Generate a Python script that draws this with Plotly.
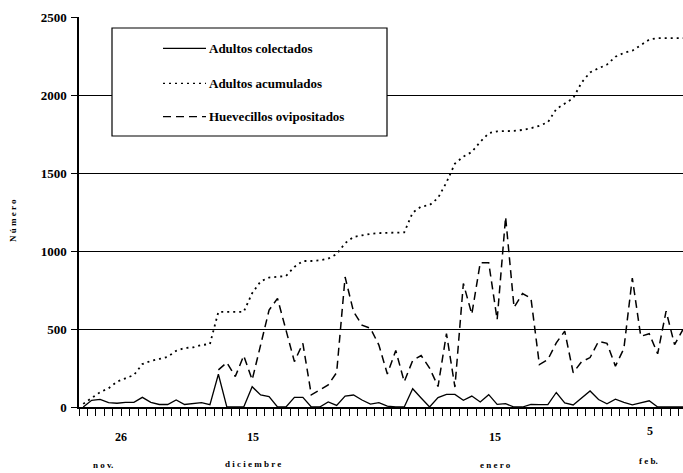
import plotly.graph_objects as go

# ---------------- data ----------------
muestra = list(range(72))

adultos_colectados = [0, 43, 49, 28, 24, 30, 30, 62, 30, 16,
                      16, 45, 16, 24, 28, 15, 210, 0, 0, 0,
                      130, 77, 66, 0, 0, 62, 62, 0, 0, 32,
                      10, 70, 77, 45, 19, 28, 5, 0, 0, 117,
                      58, 0, 60, 81, 81, 43, 70, 32, 79, 17,
                      21, 0, 0, 17, 15, 16, 93, 26, 13, 61,
                      103, 48, 20, 50, 29, 14, 29, 40, 0, 0,
                      0, 0]

adultos_acumulados = [20, 55, 95, 120, 162, 184, 205, 275, 295, 308,
                      322, 360, 378, 382, 397, 404, 610, 610, 610, 610,
                      730, 805, 830, 835, 840, 898, 936, 936, 940, 951,
                      980, 1050, 1090, 1100, 1110, 1115, 1117, 1118, 1119, 1246,
                      1285, 1294, 1340, 1440, 1560, 1605, 1635, 1700, 1755, 1767,
                      1767, 1770, 1776, 1787, 1803, 1825, 1910, 1945, 1980, 2080,
                      2145, 2171, 2195, 2245, 2270, 2284, 2320, 2355, 2365, 2365,
                      2365, 2365]

huevecillos = [None] * 16 + [238, 285, 195, 329, 174, 400, 621, 696, 490, 291,
                             408, 78, 110, 142, 221, 833, 611, 525, 505, 397,
                             212, 362, 162, 298, 330, 250, 131, 471, 128, 792,
                             595, 925, 925, 560, 1218, 638, 727, 698, 272, 304,
                             411, 486, 220, 290, 317, 421, 408, 262, 374, 827,
                             453, 470, 341, 615, 400, 497]

nombres_series = ["Adultos colectados", "Adultos acumulados", "Huevecillos ovipositados"]
etiquetas_dia = ["26", "15", "15", "5"]
etiquetas_mes = ["n o v.", "d i c i e m b r e", "e n e r o", "f e b."]
y_ticks = [0, 500, 1000, 1500, 2000, 2500]

# ---------------- layout constants ----------------
W, H = 683, 473
ML, MR, MT, MB = 79, 0, 17, 66
PW, PH = W - ML - MR, H - MT - MB
dia_pos = [4.44, 20.1, 48.76, 67.1]
dia_shift = [-30, -30, -30, -24]
mes_pos = [2.37, 20.1, 48.76, 66.86]
mes_shift = [-58, -57, -58, -54]

SERIF = "Liberation Serif"


def px(x):
    return (x - ML) / PW


def py(y):
    return (H - MB - y) / PH


styles = [dict(color="black", width=1.3, dash="solid"),
          dict(color="black", width=1.8, dash="2px,4px"),
          dict(color="black", width=1.5, dash="8px,5px")]

fig = go.Figure()
for name, vals, st in zip(nombres_series,
                          [adultos_colectados, adultos_acumulados, huevecillos],
                          styles):
    fig.add_trace(go.Scatter(x=muestra, y=vals, mode="lines", name=name,
                             line=st, showlegend=False, connectgaps=False))

fig.update_layout(
    width=W, height=H,
    margin=dict(l=ML, r=MR, t=MT, b=MB, pad=0),
    paper_bgcolor="white", plot_bgcolor="white",
    font=dict(family=SERIF, color="black"),
    xaxis=dict(range=[-0.5, 71.0], showgrid=False, zeroline=False,
               showline=True, linecolor="black", linewidth=1.5,
               ticks="outside", tick0=-0.5, dtick=1, ticklen=7,
               tickwidth=1, tickcolor="black", showticklabels=False),
    yaxis=dict(range=[0, 2500], tickvals=y_ticks, showgrid=True,
               gridcolor="black", gridwidth=1.4, zeroline=False,
               showline=True, linecolor="black", linewidth=1.5,
               ticks="outside", ticklen=6, tickwidth=1.2, tickcolor="black",
               tickfont=dict(family=SERIF, size=13, weight="bold"),
               ticklabelstandoff=2),
)

# legend box (manual, to match the reference layout)
fig.add_shape(type="rect", xref="paper", yref="paper",
              x0=px(112), x1=px(387), y0=py(136), y1=py(28),
              line=dict(color="black", width=1.2), fillcolor="white",
              layer="above")
rows = [48.3, 83.3, 116.7]
for name, st, ry in zip(nombres_series, styles, rows):
    fig.add_shape(type="line", xref="paper", yref="paper",
                  x0=px(163), x1=px(206), y0=py(ry), y1=py(ry),
                  line=dict(color="black", width=min(st["width"], 1.3), dash=st["dash"]),
                  layer="above")
    fig.add_annotation(text=name, xref="paper", yref="paper",
                       x=px(207), y=py(ry), xanchor="left", yanchor="middle",
                       showarrow=False,
                       font=dict(family=SERIF, size=13, weight="bold"))

# x labels
for t, xp, s in zip(etiquetas_dia, dia_pos, dia_shift):
    fig.add_annotation(text=t, xref="x", yref="paper", x=xp, y=0, yshift=s,
                       xanchor="center", yanchor="middle", showarrow=False,
                       font=dict(family=SERIF, size=12, weight="bold"))
for t, xp, s in zip(etiquetas_mes, mes_pos, mes_shift):
    fig.add_annotation(text=t, xref="x", yref="paper", x=xp, y=0, yshift=s,
                       xanchor="center", yanchor="middle", showarrow=False,
                       font=dict(family=SERIF, size=9, weight="bold"))

# y title
fig.add_annotation(text="N ú m e r o", xref="paper", yref="paper",
                   x=px(13), y=py(221), textangle=-90, showarrow=False,
                   xanchor="center", yanchor="middle",
                   font=dict(family=SERIF, size=9, weight="bold"))

fig.write_html("out.html",
               config={"displayModeBar": False},
               post_script="document.body.style.margin='0';"
                           "document.body.style.overflow='hidden';")
